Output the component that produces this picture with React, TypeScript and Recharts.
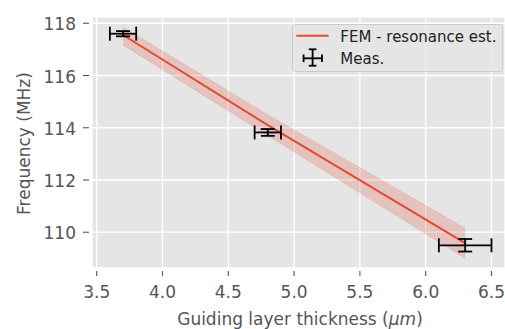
import React from 'react';
import {
  ComposedChart,
  Line,
  Area,
  Scatter,
  ErrorBar,
  XAxis,
  YAxis,
  CartesianGrid,
  Legend,
} from 'recharts';

// FEM resonance estimate (line + uncertainty band)
const femThickness = [3.7, 4.8, 6.3];
const femFrequency = [117.55, 114.1, 109.58];
const femLow = [117.17, 113.7, 109.0];
const femHigh = [117.85, 114.5, 110.15];

// Measurements
const measThickness = [3.7, 4.8, 6.3];
const measFrequency = [117.6, 113.82, 109.5];
const measThicknessErr = [0.1, 0.1, 0.2];
const measFrequencyErr = [0.1, 0.13, 0.24];

const xTicks = [3.5, 4.0, 4.5, 5.0, 5.5, 6.0, 6.5];
const yTicks = [110, 112, 114, 116, 118];

const femData = femThickness.map((x, i) => ({
  x,
  f: femFrequency[i],
  band: [femLow[i], femHigh[i]],
}));
const measData = measThickness.map((x, i) => ({
  x,
  y: measFrequency[i],
  xerr: measThicknessErr[i],
  yerr: measFrequencyErr[i],
}));

const FONT = '"DejaVu Sans", sans-serif';
const GREY = '#555555';
const RED = '#E24A33';
const PLOT_LEFT = 92;
const PLOT_BOTTOM = 268;

const XTick = (props: any) => {
  const { x, payload } = props;
  return (
    <g>
      <line x1={x} x2={x} y1={PLOT_BOTTOM + 3} y2={PLOT_BOTTOM + 8} stroke={GREY} strokeWidth={1.1} />
      <text x={x} y={298.3} textAnchor="middle" fill={GREY} fontSize={17} fontFamily={FONT}>
        {Number(payload.value).toFixed(1)}
      </text>
    </g>
  );
};

const YTick = (props: any) => {
  const { y, payload } = props;
  return (
    <g>
      <line x1={PLOT_LEFT - 9} x2={PLOT_LEFT - 3} y1={y} y2={y} stroke={GREY} strokeWidth={1.1} />
      <text x={76} y={y + 7} textAnchor="end" fill={GREY} fontSize={17} fontFamily={FONT}>
        {payload.value}
      </text>
    </g>
  );
};

const LegendBox = () => (
  <svg width={212} height={49} style={{ display: 'block' }}>
    <rect x={0.5} y={0.5} width={210} height={47} rx={3} ry={3} fill="#E5E5E5" fillOpacity={0.8} stroke="#CCCCCC" strokeWidth={1} />
    <line x1={4.3} x2={36.6} y1={11.7} y2={11.7} stroke={RED} strokeWidth={2} />
    <text x={48.3} y={17.7} fill="#222" fontSize={15} fontFamily={FONT}>FEM - resonance est.</text>
    <g stroke="#000" strokeWidth={1.8}>
      <line x1={11.6} x2={30} y1={34.3} y2={34.3} />
      <line x1={11.6} x2={11.6} y1={30.5} y2={38.1} />
      <line x1={30} x2={30} y1={30.5} y2={38.1} />
      <line x1={20.6} x2={20.6} y1={25.3} y2={41.7} />
      <line x1={16.8} x2={24.4} y1={25.3} y2={25.3} />
      <line x1={16.8} x2={24.4} y1={41.7} y2={41.7} />
    </g>
    <text x={48.3} y={39.7} fill="#222" fontSize={15} fontFamily={FONT}>Meas.</text>
  </svg>
);

const NoShape = () => <g />;

export default function App() {
  return (
    <div style={{ position: 'absolute', left: 0, top: 0, width: 505, height: 329, overflow: 'hidden', background: '#fff' }}>
      <ComposedChart
        width={505}
        height={329}
        data={femData}
        margin={{ top: 17, right: 0, bottom: 11, left: 0 }}
      >
        <CartesianGrid fill="#E5E5E5" fillOpacity={1} stroke="#FFFFFF" strokeWidth={1.3} />
        <XAxis
          type="number"
          dataKey="x"
          domain={[3.4643, 6.6026]}
          ticks={xTicks}
          allowDataOverflow
          height={50}
          tick={<XTick />}
          tickLine={false}
          axisLine={false}
          interval={0}
          label={() => (
            <text x={300} y={325.3} textAnchor="middle" fill={GREY} fontSize={17} fontFamily={FONT}>
              Guiding layer thickness (<tspan fontStyle="italic">μm</tspan>)
            </text>
          )}
        />
        <YAxis
          type="number"
          domain={[108.63, 118.24]}
          ticks={yTicks}
          allowDataOverflow
          width={92}
          tick={<YTick />}
          tickLine={false}
          axisLine={false}
          interval={0}
          label={() => (
            <text
              x={30}
              y={143.5}
              transform="rotate(-90, 30, 143.5)"
              textAnchor="middle"
              fill={GREY}
              fontSize={17}
              fontFamily={FONT}
            >
              Frequency (MHz)
            </text>
          )}
        />
        <Area
          type="linear"
          dataKey="band"
          stroke={RED}
          strokeOpacity={0.2}
          strokeWidth={0.8}
          fill={RED}
          fillOpacity={0.22}
          isAnimationActive={false}
          activeDot={false}
        />
        <Line
          type="linear"
          dataKey="f"
          stroke={RED}
          strokeWidth={2}
          dot={false}
          activeDot={false}
          isAnimationActive={false}
        />
        <Scatter data={measData} dataKey="y" shape={<NoShape />} isAnimationActive={false}>
          <ErrorBar dataKey="xerr" direction="x" width={7} stroke="#000" strokeWidth={1.8} isAnimationActive={false} />
          <ErrorBar dataKey="yerr" direction="y" width={7} stroke="#000" strokeWidth={1.8} isAnimationActive={false} />
        </Scatter>
        <Legend
          layout="horizontal"
          verticalAlign="middle"
          content={() => <LegendBox />}
          wrapperStyle={{ position: 'absolute', left: 291.7, top: 24, width: 212, height: 49 }}
        />
      </ComposedChart>
    </div>
  );
}
